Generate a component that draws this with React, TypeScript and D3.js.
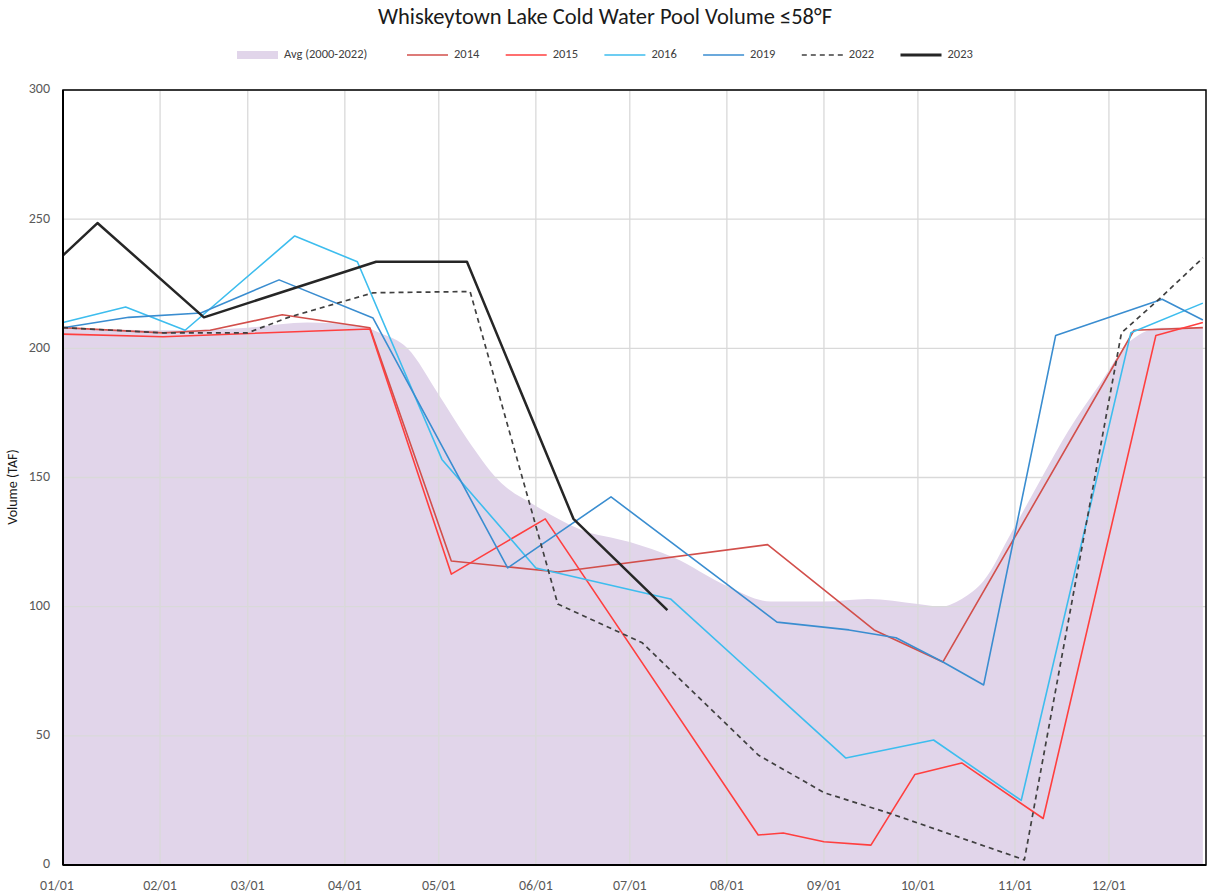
import * as d3 from "d3";

const WIDTH = 1207;
const HEIGHT = 896;
const MARGIN = { top: 90, right: 1, bottom: 31, left: 63 };
const FONT = "Carlito, Calibri, 'Open Sans', sans-serif";

const TITLE = "Whiskeytown Lake Cold Water Pool Volume ≤58°F";
const Y_LABEL = "Volume (TAF)";
const Y_TICKS = [0, 50, 100, 150, 200, 250, 300];

// average of 2000-2022
const avgDates = ["01-01", "02-01", "03-01", "03-20", "04-05", "04-12", "04-21", "05-01", "05-10", "05-20",
  "06-01", "06-15", "07-01", "07-15", "08-01", "08-15", "09-01", "09-15", "10-01", "10-08", "10-15",
  "10-22", "10-31", "11-10", "11-18", "11-28", "12-08", "12-18", "12-31"];
const avgValues = [208, 207, 208, 210, 209, 206, 200, 182, 165, 149,
  139, 130, 125, 119, 108, 102, 102, 103, 101, 100, 103,
  110, 129, 151, 168, 186, 203, 208, 208];

const dates2014 = ["01-01", "02-02", "02-17", "03-12", "04-09", "05-05", "06-08", "08-14", "09-17", "10-09", "12-09", "12-31"];
const values2014 = [208, 206, 207, 213, 208, 117.7, 113.4, 124, 91, 78.6, 207, 208];

const dates2015 = ["01-01", "02-02", "04-09", "05-05", "06-04", "08-11", "08-19", "09-01", "09-16", "09-30", "10-15", "11-10", "12-16", "12-31"];
const values2015 = [205.5, 204.5, 207.5, 112.6, 134, 11.6, 12.4, 9, 7.7, 35, 39.5, 18, 205, 210];

const dates2016 = ["01-01", "01-21", "02-09", "03-16", "04-05", "05-02", "06-01", "07-14", "09-08", "10-06", "11-03", "12-08", "12-31"];
const values2016 = [210, 216, 207, 243.5, 233.5, 157, 115, 103, 41.4, 48.4, 25, 206, 217.5];

const dates2019 = ["01-01", "01-22", "02-14", "03-11", "04-10", "05-23", "06-25", "08-17", "09-09", "09-24", "10-09", "10-22", "11-14", "12-18", "12-31"];
const values2019 = [208, 212, 213.7, 226.5, 211.7, 115, 142.5, 94, 91, 88, 78.6, 69.7, 205, 219, 211];

const dates2022 = ["01-01", "02-02", "03-01", "03-14", "04-10", "05-11", "06-08", "06-17", "07-05", "08-11", "09-01", "09-22", "11-04", "12-05", "12-17", "12-31"];
const values2022 = [208, 206, 206, 212, 221.5, 222, 101, 96, 86, 42.6, 28, 20, 2, 206, 219, 235];

const dates2023 = ["01-01", "01-12", "02-15", "04-11", "05-10", "06-13", "07-13"];
const values2023 = [236, 248.5, 212, 233.5, 233.5, 134, 98.7];

const seriesList = [
  { name: "2014", dates: dates2014, values: values2014, color: "#d24f4b", width: 1.6, dash: null },
  { name: "2015", dates: dates2015, values: values2015, color: "#ff3f3f", width: 1.6, dash: null },
  { name: "2016", dates: dates2016, values: values2016, color: "#3dbdee", width: 1.6, dash: null },
  { name: "2019", dates: dates2019, values: values2019, color: "#3a8dd0", width: 1.6, dash: null },
  { name: "2022", dates: dates2022, values: values2022, color: "#404040", width: 1.7, dash: "5,4" },
  { name: "2023", dates: dates2023, values: values2023, color: "#262626", width: 2.5, dash: null },
];

const parse = d3.timeParse("%Y-%m-%d");
const toPoints = (dates: string[], values: number[]) =>
  dates.map((d, i) => ({ date: parse(`2023-${d}`) as Date, value: values[i] }));

export default function App() {
  const x0 = MARGIN.left;
  const x1 = WIDTH - MARGIN.right;
  const yTop = MARGIN.top;
  const yBottom = HEIGHT - MARGIN.bottom;

  const xScale = d3
    .scaleTime()
    .domain([new Date(2023, 0, 1), new Date(2024, 0, 1)])
    .range([x0, x1]);
  const yScale = d3.scaleLinear().domain([0, 300]).range([yBottom, yTop]);

  const monthTicks = d3.timeMonth.range(new Date(2023, 0, 1), new Date(2024, 0, 1));
  const fmt = d3.timeFormat("%m/%d");

  const avgPoints = toPoints(avgDates, avgValues);
  const area = d3
    .area<{ date: Date; value: number }>()
    .x((d) => xScale(d.date))
    .y0(yScale(0))
    .y1((d) => yScale(d.value))
    .curve(d3.curveMonotoneX);

  const line = d3
    .line<{ date: Date; value: number }>()
    .x((d) => xScale(d.date))
    .y((d) => yScale(d.value));

  // legend layout
  const legendY = 55;
  const legendItems = [
    { label: "Avg (2000-2022)", x: 237, kind: "area", color: "#e1d5ea", width: 0, dash: null as string | null },
    ...seriesList.map((s, i) => ({ label: s.name, x: 407 + i * 98.7, kind: "line", color: s.color, width: s.width, dash: s.dash })),
  ];

  return (
    <svg width={WIDTH} height={HEIGHT} style={{ position: "absolute", left: 0, top: 0, background: "white" }} fontFamily={FONT}>
      <text x={605} y={24} textAnchor="middle" fontSize={22.5} fill="#1a1a1a">
        {TITLE}
      </text>

      {legendItems.map((it) => (
        <g key={it.label}>
          {it.kind === "area" ? (
            <rect x={it.x} y={legendY - 4} width={41} height={8} fill={it.color} />
          ) : (
            <line x1={it.x} x2={it.x + 41} y1={legendY} y2={legendY} stroke={it.color}
              strokeWidth={it.width === 2.5 ? 3 : 1.6} strokeDasharray={it.dash ?? undefined} />
          )}
          <text x={it.x + 47} y={legendY} dominantBaseline="middle" fontSize={12.5} fill="#404040">
            {it.label}
          </text>
        </g>
      ))}

      <path d={area(avgPoints) ?? ""} fill="#e1d5ea" />

      {Y_TICKS.filter((t) => t > 0).map((t) => (
        <line key={`gy${t}`} x1={x0} x2={x1} y1={yScale(t)} y2={yScale(t)} stroke="#d9d9d9" strokeWidth={1.3} />
      ))}
      {monthTicks.slice(1).map((m) => (
        <line key={`gx${+m}`} x1={xScale(m)} x2={xScale(m)} y1={yTop} y2={yBottom} stroke="#d9d9d9" strokeWidth={1.3} />
      ))}

      {seriesList.map((s) => (
        <path key={s.name} d={line(toPoints(s.dates, s.values)) ?? ""} fill="none" stroke={s.color}
          strokeWidth={s.width} strokeDasharray={s.dash ?? undefined} strokeLinejoin="round" />
      ))}

      <rect x={x0} y={yTop} width={x1 - x0} height={yBottom - yTop} fill="none" stroke="#000" strokeWidth={1.5} />
      <line x1={x0} x2={x0} y1={yTop} y2={yBottom} stroke="#000" strokeWidth={2} />
      <line x1={x0} x2={x1} y1={yBottom} y2={yBottom} stroke="#000" strokeWidth={2} />

      {Y_TICKS.map((t) => (
        <text key={`ty${t}`} x={50} y={yScale(t)} textAnchor="end" dominantBaseline="middle" fontSize={14} fill="#595959">
          {t}
        </text>
      ))}
      {monthTicks.map((m) => (
        <text key={`tx${+m}`} x={xScale(m) + (+m === +monthTicks[0] ? -6 : 0)} y={887} textAnchor="middle"
          dominantBaseline="middle" fontSize={14} fill="#595959">
          {fmt(m)}
        </text>
      ))}

      <text transform={`translate(14, 487) rotate(-90)`} textAnchor="middle" dominantBaseline="middle" fontSize={14} fill="#1a1a1a">
        {Y_LABEL}
      </text>
    </svg>
  );
}
